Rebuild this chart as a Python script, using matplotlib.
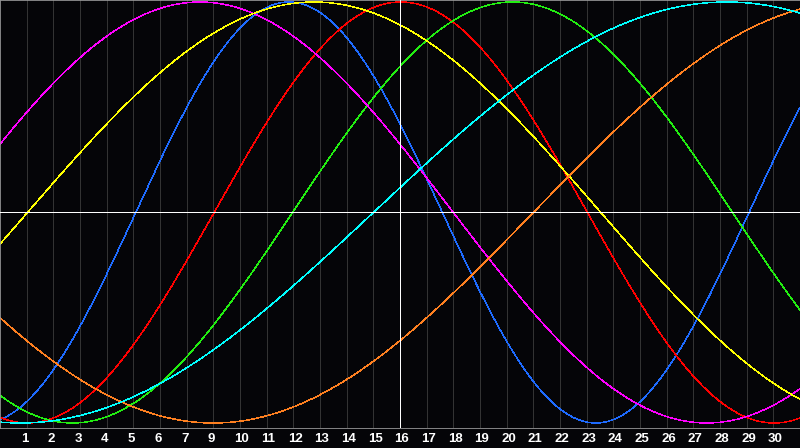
import numpy as np
import matplotlib.pyplot as plt

# biorhythm cycles: cycle length (days) and the column where each curve peaks
cycles = ["physical", "emotional", "intellectual", "intuitive", "aesthetic", "awareness", "spiritual"]
periods = [23, 28, 33, 38, 43, 48, 53]
peak_pos = [10.84, 15.03, 19.22, 7.5, 11.78, 32.0, 27.25]
colors = ["#1e6bff", "#ff0000", "#22ee11", "#ff00ff", "#ffff00", "#ff8020", "#00ffff"]

# day labels under the grid lines (the chart skips 8)
day_labels = [1, 2, 3, 4, 5, 6, 7, 9, 10, 11, 12, 13, 14, 15, 16, 17, 18, 19, 20,
              21, 22, 23, 24, 25, 26, 27, 28, 29, 30]
today_pos = 15
n_cols = 30

bg = "#050508"
fig = plt.figure(figsize=(8, 4.48), dpi=100, facecolor=bg)
ax = fig.add_axes([0, 20 / 448, 1, 428 / 448], facecolor=bg)

ax.set_xlim(0, n_cols)
ax.set_ylim(-1.0238, 1.0095)

for k in range(1, n_cols):
    ax.axvline(k, color="#333333", lw=0.5, antialiased=False, zorder=1)
ax.axvline(today_pos, color="white", lw=0.5, antialiased=False, zorder=3)
ax.axhline(0, color="white", lw=0.5, antialiased=False, zorder=3)

xs = np.linspace(0, n_cols, 1600)
for name, p, pk, c in zip(cycles, periods, peak_pos, colors):
    ax.plot(xs, np.cos(2 * np.pi * (xs - pk) / p), color=c, lw=0.35,
            antialiased=False, zorder=2, label=name)

for i, d in enumerate(day_labels):
    ax.text(i + 1 - 0.21, -0.026, str(d), transform=ax.get_xaxis_transform(),
            ha="left", va="center", color="white", fontsize=9.5, fontweight="bold",
            family="Liberation Sans")

for s in ax.spines.values():
    s.set_color("#9a9a9a")
    s.set_linewidth(0.6)
ax.set_xticks([])
ax.set_yticks([])

fig.savefig("out.png", dpi=100, facecolor=bg)
